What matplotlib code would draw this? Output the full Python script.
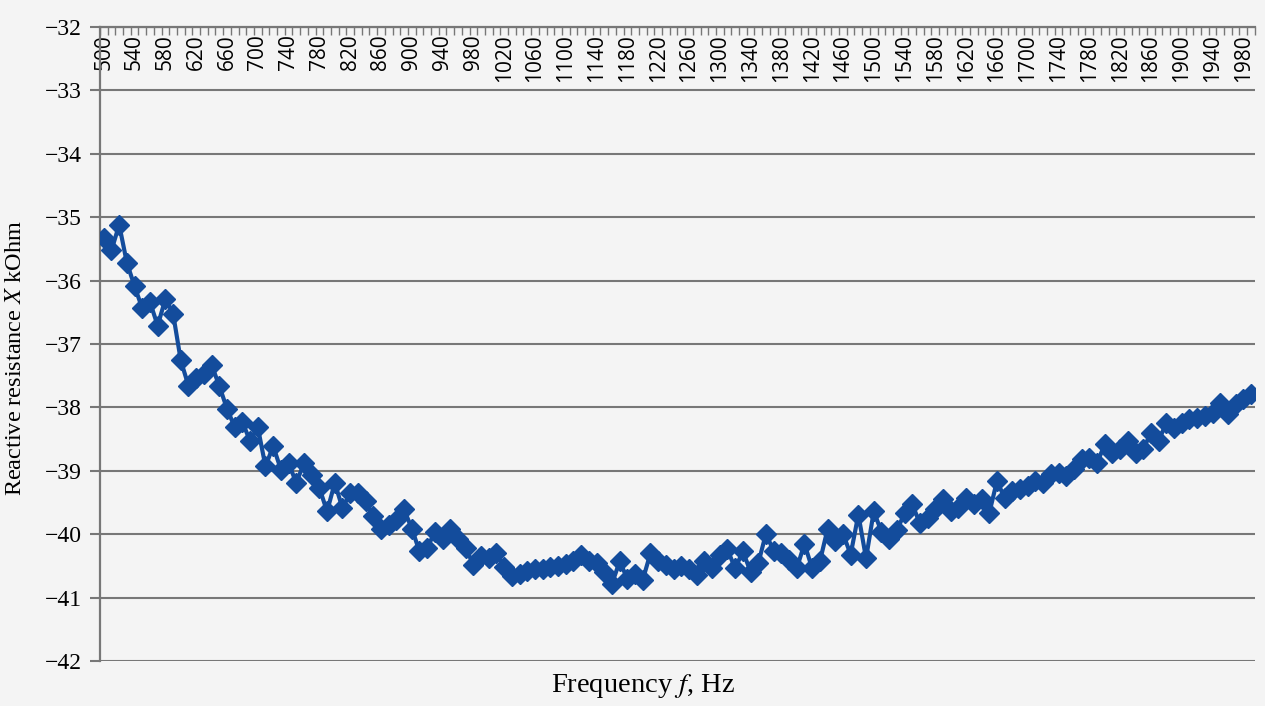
import matplotlib.pyplot as plt

plt.rcParams['mathtext.fontset'] = 'stix'

# frequency grid, Hz (one category every 10 Hz)
freq_hz = list(range(500, 2000, 10))

# measured reactive resistance, kOhm
reactance_kohm = [
    -35.33, -35.52, -35.12, -35.72, -36.09, -36.44, -36.34, -36.71, -36.29, -36.52,
    -37.26, -37.66, -37.53, -37.47, -37.33, -37.66, -38.02, -38.31, -38.23, -38.53,
    -38.31, -38.93, -38.61, -38.98, -38.88, -39.19, -38.88, -39.07, -39.27, -39.64,
    -39.19, -39.59, -39.35, -39.35, -39.48, -39.72, -39.91, -39.85, -39.77, -39.61,
    -39.91, -40.27, -40.22, -39.96, -40.07, -39.92, -40.08, -40.22, -40.48, -40.35,
    -40.38, -40.30, -40.52, -40.66, -40.62, -40.58, -40.55, -40.55, -40.52, -40.50,
    -40.47, -40.43, -40.32, -40.42, -40.46, -40.59, -40.78, -40.43, -40.70, -40.62,
    -40.72, -40.30, -40.43, -40.48, -40.55, -40.50, -40.55, -40.64, -40.43, -40.54,
    -40.32, -40.24, -40.54, -40.27, -40.59, -40.46, -39.99, -40.27, -40.30, -40.40,
    -40.54, -40.15, -40.54, -40.43, -39.92, -40.11, -39.99, -40.32, -39.69, -40.38,
    -39.64, -39.96, -40.07, -39.94, -39.67, -39.53, -39.83, -39.75, -39.61, -39.45,
    -39.64, -39.59, -39.43, -39.53, -39.45, -39.67, -39.16, -39.43, -39.32, -39.29,
    -39.24, -39.16, -39.19, -39.05, -39.03, -39.08, -38.97, -38.81, -38.80, -38.88,
    -38.58, -38.72, -38.66, -38.53, -38.72, -38.66, -38.40, -38.53, -38.24, -38.32,
    -38.24, -38.18, -38.16, -38.13, -38.09, -37.93, -38.11, -37.94, -37.87, -37.79,
]

y_ticks = list(range(-42, -31))
label_step = 4

bg = '#f4f4f4'
grid_col = '#777777'
line_col = '#134c9c'

fig = plt.figure(figsize=(12.65, 7.06), dpi=100, facecolor=bg)
ax = fig.add_axes([0.079, 0.0637, 0.913, 0.8981])
ax.set_facecolor(bg)

pos = list(range(len(freq_hz)))
ax.plot(pos, reactance_kohm, color=line_col, lw=3, marker='D', ms=10,
        mec=line_col, mfc=line_col, zorder=3)

ax.set_xlim(-0.5, len(freq_hz) - 0.5)
ax.set_ylim(-42, -32)

# horizontal grid and y axis
ax.set_yticks(y_ticks)
ax.set_yticklabels([f'\u2212{abs(v)}' for v in y_ticks])
ax.yaxis.grid(True, color=grid_col, lw=1.5)
ax.tick_params(axis='y', direction='out', length=7, width=1.5, color=grid_col, pad=6,
               labelsize=17, labelfontfamily='Liberation Serif')

# category axis drawn along the top edge, labels inside the plot
ax.xaxis.tick_top()
ax.set_xticks(pos[::label_step])
ax.set_xticklabels([str(f) for f in freq_hz[::label_step]])
ax.set_xticks([p - 0.5 for p in pos] + [len(pos) - 0.5], minor=True)
ax.tick_params(axis='x', which='major', length=0, pad=-5)
ax.tick_params(axis='x', which='minor', direction='in', length=6, width=1, color=grid_col)
for tick in ax.xaxis.get_major_ticks():
    lbl = tick.label2
    lbl.set_rotation(90)
    lbl.set_fontsize(15)
    lbl.set_family('Open Sans')
    lbl.set_va('top')
    lbl.set_ha('center')

for side in ('right', 'bottom'):
    ax.spines[side].set_visible(False)
for side in ('left', 'top'):
    ax.spines[side].set_color(grid_col)
    ax.spines[side].set_linewidth(1.6)

ax.set_ylabel(r'Reactive resistance $\mathit{X}$ kOhm', family='Liberation Serif',
              fontsize=17.5)
ax.yaxis.set_label_coords(-0.064, 0.478)
fig.text(0.508, 0.029, r'Frequency $\mathit{f}$, Hz', family='Liberation Serif',
         fontsize=20.5, ha='center', va='center')

fig.savefig('out.png', dpi=100, facecolor=bg)
